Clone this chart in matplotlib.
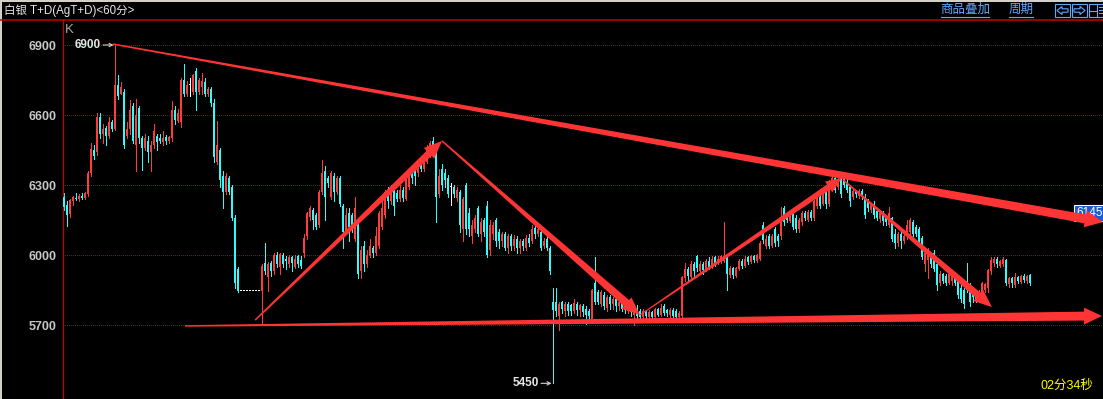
import numpy as np
import matplotlib.pyplot as plt
from matplotlib.patches import Polygon, Rectangle
from matplotlib.lines import Line2D

plt.rcParams['font.family'] = ['Liberation Sans', 'Noto Sans CJK SC', 'DejaVu Sans']

# 60 minute candles, silver T+D
opens = [
    6250, 6215, 6175, 6230, 6245, 6240, 6255, 6245, 6260, 6350,
    6450, 6440, 6590, 6520, 6545, 6510, 6570, 6540, 6730, 6690,
    6700, 6510, 6540, 6640, 6470, 6630, 6500, 6460, 6490, 6440,
    6470, 6510, 6500, 6485, 6505, 6490, 6500, 6620, 6575, 6570,
    6750, 6690, 6730, 6700, 6790, 6700, 6720, 6740, 6690, 6710,
    6650, 6400, 6450, 6340, 6270, 6330, 6290, 6160, 5940, 5845,
    5845, 5845, 5845, 5845, 5845, 5845, 5845, 5965, 5905, 5965,
    5930, 6000, 5950, 6000, 5985, 5960, 5990, 5950, 5995, 5980,
    6010, 6080, 6165, 6195, 6170, 6130, 6270, 6360, 6330, 6250,
    6340, 6270, 6330, 6210, 6100, 6180, 6170, 6070, 6150, 5930,
    6040, 5960, 5995, 6030, 6010, 6040, 6120, 6170, 6270, 6230,
    6280, 6265, 6240, 6280, 6240, 6290, 6370, 6360, 6350, 6395,
    6370, 6400, 6430, 6490, 6450, 6260, 6370, 6350, 6330, 6290,
    6290, 6245, 6270, 6110, 6300, 6180, 6080, 6110, 6200, 6090,
    6150, 6210, 6020, 6090, 6150, 6100, 6060, 6090, 6030, 6080,
    6040, 6070, 6030, 6060, 6030, 6075, 6060, 6115, 6090, 6100,
    6040, 6070, 6030, 5800, 5800, 5740, 5800, 5760, 5790, 5785,
    5760, 5790, 5765, 5780, 5770, 5760, 5720, 5880, 5840, 5790,
    5830, 5775, 5820, 5790, 5810, 5780, 5800, 5790, 5760, 5790,
    5745, 5770, 5760, 5735, 5760, 5735, 5755, 5735, 5770, 5745,
    5780, 5765, 5745, 5765, 5760, 5735, 5740, 5900, 5940, 5905,
    5960, 5995, 5930, 5960, 5935, 5975, 5950, 5990, 5965, 5970,
    5975, 5995, 5915, 5945, 5910, 5940, 5975, 5955, 5990, 5970,
    5995, 5975, 5985, 6130, 6040, 6080, 6040, 6110, 6080, 6080,
    6200, 6170, 6145, 6180, 6160, 6110, 6140, 6180, 6150, 6185,
    6160, 6210, 6250, 6220, 6270, 6220, 6300, 6330, 6290, 6330,
    6335, 6310, 6290, 6250, 6275, 6255, 6275, 6250, 6230, 6195,
    6220, 6190, 6155, 6180, 6160, 6130, 6160, 6090, 6050, 6090,
    6060, 6080, 6100, 6140, 6120, 6110, 6075, 5960, 5980, 6000,
    6010, 5960, 5880, 5920, 5910, 5880, 5890, 5910, 5890, 5860,
    5850, 5880, 5870, 5850, 5840, 5815, 5840, 5850, 5860, 5930,
    5965, 5985, 5955, 5960, 5980, 5875, 5900, 5870, 5905, 5885,
    5910, 5890, 5915]
highs = [
    6265, 6230, 6240, 6255, 6265, 6260, 6265, 6270, 6360, 6480,
    6470, 6610, 6610, 6560, 6555, 6590, 6580, 6900, 6770, 6740,
    6710, 6570, 6665, 6650, 6670, 6640, 6510, 6520, 6510, 6490,
    6560, 6520, 6520, 6530, 6515, 6510, 6660, 6640, 6625, 6760,
    6820, 6745, 6760, 6775, 6800, 6760, 6780, 6760, 6720, 6720,
    6670, 6575, 6460, 6360, 6350, 6340, 6300, 6170, 5950, 5845,
    5845, 5845, 5845, 5845, 5845, 5845, 5960, 6050, 5970, 5975,
    6010, 6015, 6010, 6010, 5995, 6000, 5995, 6000, 6000, 5995,
    6090, 6185, 6210, 6200, 6180, 6280, 6407, 6380, 6340, 6360,
    6350, 6340, 6340, 6220, 6200, 6200, 6180, 6250, 6160, 6040,
    6060, 6020, 6070, 6040, 6120, 6190, 6230, 6280, 6290, 6300,
    6290, 6280, 6300, 6290, 6330, 6360, 6380, 6370, 6410, 6410,
    6430, 6470, 6490, 6505, 6460, 6370, 6390, 6370, 6345, 6310,
    6300, 6290, 6280, 6250, 6310, 6200, 6150, 6170, 6210, 6160,
    6160, 6230, 6150, 6140, 6160, 6110, 6100, 6100, 6090, 6090,
    6085, 6080, 6070, 6070, 6085, 6090, 6130, 6125, 6120, 6110,
    6075, 6080, 6040, 5858, 5860, 5800, 5805, 5800, 5800, 5790,
    5810, 5800, 5790, 5790, 5780, 5770, 5855, 5990, 5850, 5850,
    5840, 5830, 5830, 5820, 5820, 5810, 5810, 5795, 5800, 5800,
    5785, 5785, 5770, 5770, 5765, 5765, 5760, 5775, 5775, 5790,
    5790, 5770, 5775, 5775, 5770, 5760, 5910, 5965, 5950, 5975,
    5970, 6000, 5975, 5970, 5985, 5990, 5995, 5995, 5995, 6000,
    6140, 6000, 5955, 5950, 5950, 5985, 5985, 5995, 5995, 6000,
    6000, 6005, 6060, 6140, 6085, 6090, 6090, 6120, 6090, 6205,
    6210, 6180, 6180, 6190, 6170, 6160, 6190, 6190, 6195, 6195,
    6240, 6260, 6260, 6280, 6275, 6320, 6340, 6340, 6335, 6335,
    6340, 6335, 6300, 6285, 6280, 6285, 6285, 6260, 6240, 6225,
    6230, 6200, 6190, 6190, 6170, 6205, 6165, 6110, 6100, 6100,
    6100, 6150, 6160, 6150, 6130, 6120, 6080, 6020, 6030, 6010,
    6020, 5965, 5930, 5925, 5920, 5930, 5920, 5920, 5900, 5870,
    5860, 5965, 5880, 5860, 5850, 5850, 5885, 5880, 5940, 5990,
    5990, 5990, 5980, 5990, 5985, 5905, 5905, 5925, 5910, 5915,
    5920, 5915, 5920]
lows = [
    6195, 6125, 6165, 6215, 6235, 6230, 6240, 6240, 6255, 6340,
    6410, 6430, 6500, 6480, 6470, 6500, 6530, 6535, 6670, 6690,
    6460, 6500, 6520, 6480, 6360, 6480, 6365, 6450, 6400, 6360,
    6460, 6450, 6480, 6470, 6475, 6480, 6490, 6560, 6570, 6550,
    6680, 6680, 6680, 6690, 6620, 6690, 6690, 6680, 6680, 6640,
    6400, 6390, 6290, 6200, 6260, 6260, 6150, 5860, 5840, 5845,
    5845, 5845, 5845, 5845, 5845, 5845, 5710, 5920, 5845, 5910,
    5920, 5950, 5920, 5950, 5940, 5950, 5930, 5945, 5950, 5945,
    5990, 6070, 6150, 6110, 6110, 6120, 6260, 6150, 6290, 6240,
    6230, 6260, 6210, 6030, 6090, 6060, 6100, 6060, 5900, 5900,
    5930, 5950, 5990, 5990, 6000, 6030, 6110, 6160, 6200, 6220,
    6170, 6230, 6230, 6230, 6235, 6285, 6310, 6300, 6340, 6360,
    6360, 6395, 6420, 6430, 6140, 6250, 6280, 6290, 6250, 6215,
    6250, 6230, 6100, 6060, 6090, 6080, 6050, 6100, 6080, 6060,
    6080, 5990, 6000, 6070, 6040, 6030, 6040, 6020, 6010, 6020,
    6020, 6010, 6010, 6020, 6020, 6040, 6050, 6075, 6080, 6020,
    6030, 6020, 5920, 5450, 5740, 5680, 5750, 5740, 5745, 5745,
    5750, 5745, 5740, 5740, 5705, 5730, 5710, 5790, 5790, 5780,
    5770, 5760, 5770, 5770, 5760, 5765, 5760, 5750, 5750, 5740,
    5700, 5730, 5725, 5730, 5730, 5730, 5725, 5730, 5740, 5740,
    5745, 5740, 5735, 5730, 5730, 5730, 5735, 5890, 5895, 5900,
    5910, 5930, 5920, 5920, 5930, 5940, 5945, 5955, 5960, 5965,
    5970, 5850, 5905, 5900, 5905, 5935, 5945, 5950, 5960, 5965,
    5970, 5970, 5980, 6050, 6030, 6030, 6035, 6040, 6040, 6070,
    6130, 6140, 6140, 6110, 6100, 6100, 6130, 6150, 6145, 6150,
    6150, 6200, 6200, 6215, 6200, 6210, 6290, 6270, 6285, 6250,
    6290, 6270, 6210, 6240, 6250, 6245, 6240, 6160, 6190, 6185,
    6160, 6150, 6140, 6130, 6130, 6120, 6060, 6030, 6040, 6030,
    6050, 6070, 6090, 6080, 6080, 6040, 5985, 5930, 5900, 5950,
    5930, 5850, 5870, 5880, 5870, 5875, 5870, 5870, 5815, 5800,
    5775, 5840, 5780, 5800, 5800, 5810, 5835, 5840, 5840, 5920,
    5955, 5950, 5950, 5955, 5870, 5865, 5865, 5865, 5880, 5880,
    5885, 5880, 5870]
closes = [
    6205, 6170, 6235, 6250, 6240, 6255, 6245, 6265, 6350, 6455,
    6425, 6590, 6520, 6540, 6510, 6570, 6540, 6730, 6680, 6720,
    6470, 6540, 6620, 6490, 6600, 6500, 6460, 6500, 6440, 6470,
    6530, 6485, 6490, 6500, 6490, 6505, 6620, 6580, 6610, 6750,
    6690, 6730, 6730, 6770, 6700, 6750, 6745, 6690, 6710, 6650,
    6420, 6470, 6320, 6270, 6340, 6270, 6160, 5880, 5845, 5845,
    5845, 5845, 5845, 5845, 5845, 5845, 5955, 5930, 5960, 5930,
    6000, 5960, 6005, 5960, 5975, 5990, 5965, 5985, 5960, 5955,
    6075, 6180, 6200, 6150, 6120, 6270, 6350, 6250, 6310, 6350,
    6270, 6330, 6220, 6100, 6170, 6120, 6130, 6200, 5920, 6020,
    5960, 6000, 6040, 6010, 6080, 6180, 6200, 6270, 6230, 6290,
    6210, 6240, 6280, 6245, 6320, 6340, 6330, 6340, 6400, 6370,
    6420, 6450, 6480, 6440, 6250, 6340, 6300, 6320, 6260, 6290,
    6260, 6280, 6130, 6240, 6110, 6110, 6130, 6160, 6090, 6140,
    6100, 6000, 6130, 6130, 6060, 6060, 6090, 6030, 6080, 6040,
    6070, 6030, 6060, 6040, 6075, 6050, 6110, 6090, 6110, 6030,
    6060, 6030, 5930, 5765, 5760, 5790, 5770, 5790, 5760, 5760,
    5795, 5765, 5785, 5755, 5745, 5740, 5850, 5800, 5800, 5840,
    5780, 5820, 5790, 5810, 5780, 5800, 5770, 5765, 5790, 5755,
    5770, 5740, 5735, 5760, 5740, 5755, 5735, 5770, 5745, 5775,
    5750, 5750, 5765, 5740, 5735, 5750, 5905, 5940, 5910, 5960,
    5930, 5945, 5960, 5935, 5975, 5950, 5985, 5965, 5985, 5995,
    5995, 5920, 5945, 5915, 5945, 5975, 5955, 5985, 5970, 5995,
    5980, 6000, 6050, 6065, 6070, 6040, 6080, 6050, 6060, 6140,
    6140, 6150, 6170, 6120, 6110, 6150, 6180, 6160, 6185, 6160,
    6230, 6250, 6210, 6270, 6220, 6310, 6330, 6280, 6320, 6260,
    6300, 6280, 6230, 6275, 6260, 6275, 6250, 6170, 6200, 6215,
    6170, 6160, 6180, 6145, 6140, 6180, 6070, 6050, 6090, 6060,
    6080, 6130, 6150, 6090, 6090, 6050, 5990, 6010, 6020, 5960,
    5940, 5870, 5920, 5890, 5880, 5920, 5910, 5880, 5830, 5810,
    5790, 5850, 5800, 5820, 5810, 5840, 5880, 5875, 5935, 5980,
    5985, 5960, 5975, 5985, 5880, 5900, 5880, 5905, 5890, 5910,
    5895, 5910, 5880]

y_ticks = [5700, 6000, 6300, 6600, 6900]

# hand drawn trend arrows: (start bar, start price, end bar, end price)
trend_arrows = [
    (16.3, 6904, 346.3, 6141),   # falling resistance
    (40.3, 5696, 346.0, 5739),   # flat support
    (63.7, 5721, 126.0, 6489),
    (126.0, 6489, 192.0, 5743),
    (192.0, 5743, 259.3, 6330),
    (259.7, 6322, 309.3, 5777),
]
# widths in pixels: start, end of shaft, head width, head length
arrow_sizes = [
    (1.5, 9, 17, 18),
    (1.5, 9, 17, 18),
    (1.5, 7, 15, 18),
    (1.5, 8, 15, 18),
    (1.0, 6, 13, 16),
    (1.5, 7, 15, 18),
]
last_label = '6145'

RED = '#FF3C3C'
CYAN = '#30FCFC'
W, H = 1103, 399


def tapered_arrow(ax, seg, size, color='#FF3434'):
    # build the polygon in pixel space, then bring it back to data space
    x0, p0, x1, p1 = seg
    w0, w1, hw, hl = size
    a = ax.transData.transform((x0, p0))
    b = ax.transData.transform((x1, p1))
    u = (b - a) / np.hypot(*(b - a))
    n = np.array([-u[1], u[0]])
    base = b - u * hl
    pts = [a + n * w0 / 2, base + n * w1 / 2, base + n * hw / 2, b,
           base - n * hw / 2, base - n * w1 / 2, a - n * w0 / 2]
    pts = ax.transData.inverted().transform(np.array(pts))
    ax.add_patch(Polygon(pts, closed=True, facecolor=color, edgecolor='none', zorder=5))


def mark_extreme(ax, i, price):
    # "6900 ->" style label pointing at the bar
    ax.annotate('', xy=(i, price), xytext=(-12, 0), textcoords='offset pixels',
                arrowprops=dict(arrowstyle='->', color='#D0D0D0', lw=0.8,
                                shrinkA=0, shrinkB=1, mutation_scale=6), zorder=6)
    ax.annotate(f'{price:.0f}', xy=(i, price), xytext=(-14, 0), textcoords='offset pixels',
                ha='right', va='center', color='#E6E6E6', fontweight='bold', fontsize=8.5, zorder=6)


def fig_poly(fig, pts, color):
    # outline drawn in header pixels (origin top-left)
    pts = [(px / W, 1 - py / H) for px, py in pts]
    fig.add_artist(Polygon(pts, closed=True, fill=False, edgecolor=color, lw=0.8))


fig = plt.figure(figsize=(W / 100, H / 100), dpi=100, facecolor='black')
ax = fig.add_axes([63 / W, 0, 1 - 63 / W, (H - 20) / H])
ax.set_facecolor('black')
ax.set_xlim(-1 / 3, (W - 64) / 3)
ax.set_ylim(6900 - (H - 45) * 30 / 7, 6900 + 25 * 30 / 7)

o = np.array(opens); h = np.array(highs); l = np.array(lows); c = np.array(closes)
x = np.arange(len(c))
cols = np.where(c > o, RED, np.where(c < o, CYAN, '#FFFFFF'))

for p in y_ticks:
    ax.axhline(p, color='#8C0000', lw=0.72, ls=(0, (1, 2)), antialiased=False, zorder=1)

ax.vlines(x, l, h, colors=cols, linewidth=0.72, antialiased=False, zorder=2)
body_h = np.maximum(np.abs(c - o), 4.3)
ax.bar(x, body_h, 0.68, bottom=np.minimum(o, c), color=cols, linewidth=0,
       antialiased=False, zorder=3)

imax = int(np.argmax(h)); imin = int(np.argmin(l))
mark_extreme(ax, imax, h[imax])
mark_extreme(ax, imin, l[imin])

# price box on the right edge
ax.text(337.3, 6180, last_label, ha='left', va='center', color='white', fontsize=8.5, zorder=4,
        bbox=dict(boxstyle='square,pad=0.2', facecolor='#1E5AD2', edgecolor='white', lw=0.8))

for seg, size in zip(trend_arrows, arrow_sizes):
    tapered_arrow(ax, seg, size)

ax.set_yticks(y_ticks)
ax.set_yticklabels([str(v) for v in y_ticks], fontweight='bold', fontsize=9, color='#C8C8C8')
ax.tick_params(axis='y', length=0, pad=5)
ax.set_xticks([])
for s in ['top', 'right', 'bottom']:
    ax.spines[s].set_visible(False)
ax.spines['left'].set_color('#C80000')
ax.spines['left'].set_linewidth(0.9)

fig.text(65 / W, 1 - 30 / H, 'K', ha='left', va='center', color='#A8A8A8', fontsize=9.5,
         fontweight='light')

# header strip
fig.add_artist(Line2D([0, 1], [1 - 20 / H, 1 - 20 / H], color='#C80000', lw=1.1))
fig.add_artist(Rectangle((0, 1 - 2 / H), 1, 2 / H, color='#D4D0C8', lw=0))
fig.add_artist(Rectangle((0, 0), 2 / W, 1, color='#D4D0C8', lw=0))
fig.text(4 / W, 1 - 11 / H, '白银 T+D(AgT+D)<60分>', color='#E8E8E8', fontsize=8.3, va='center')

blue = '#62A8FF'
fig.text(965 / W, 1 - 10 / H, '商品叠加', color=blue, fontsize=9, ha='center', va='center')
fig.add_artist(Line2D([941 / W, 989 / W], [1 - 17 / H, 1 - 17 / H], color=blue, lw=0.8))
fig.text(1021 / W, 1 - 10 / H, '周期', color=blue, fontsize=9, ha='center', va='center')
fig.add_artist(Line2D([1009 / W, 1033 / W], [1 - 17 / H, 1 - 17 / H], color=blue, lw=0.8))
for bx in [1055, 1072, 1089]:
    fig.add_artist(Rectangle((bx / W, 1 - 17 / H), 15 / W, 13 / H, fill=False, edgecolor=blue, lw=0.8))
# hollow left / right arrows and the panel icon
fig_poly(fig, [(1057, 10.5), (1062, 6.5), (1062, 8.8), (1068, 8.8), (1068, 12.2), (1062, 12.2),
               (1062, 14.5)], blue)
fig_poly(fig, [(1085, 10.5), (1080, 6.5), (1080, 8.8), (1074, 8.8), (1074, 12.2), (1080, 12.2),
               (1080, 14.5)], blue)
fig.add_artist(Line2D([1089 / W, 1097 / W], [1 - 10.5 / H, 1 - 10.5 / H], color=blue, lw=0.8))
fig.add_artist(Line2D([1097 / W, 1097 / W], [1 - 17 / H, 1 - 4 / H], color=blue, lw=0.8))
for yy in [7, 10, 13]:
    fig.add_artist(Line2D([1099 / W, 1103 / W], [1 - yy / H, 1 - yy / H], color=blue, lw=0.8))

fig.text(1067 / W, 1 - 386 / H, '02分34秒', color='#FFFF00', fontsize=9, ha='center', va='center')

fig.savefig('out.png', dpi=100, facecolor='black')
